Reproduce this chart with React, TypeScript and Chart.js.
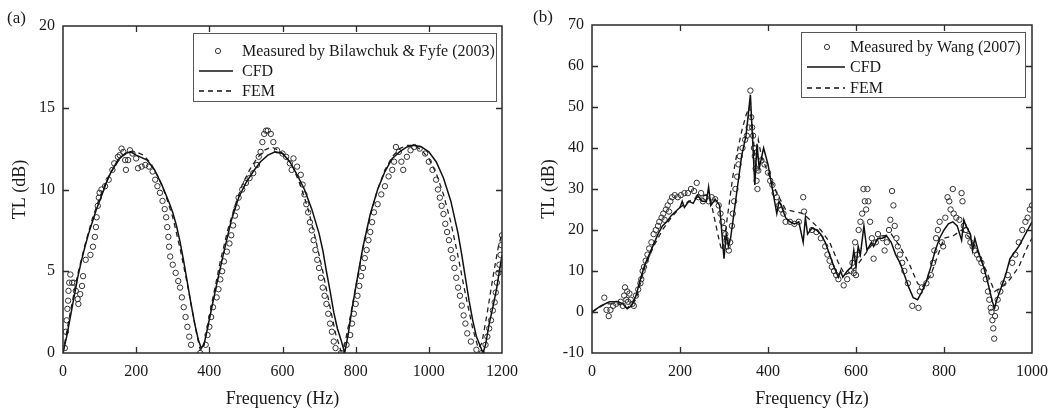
import React, { useEffect, useRef } from "react";
import { Chart, registerables } from "chart.js";
Chart.register(...registerables);

const FONT = '"Liberation Serif", "Times New Roman", serif';

// ---------- Panel (a) ----------
const aMeasFreq = [5, 8, 10, 12, 14, 15, 17, 20, 25, 30, 35, 40, 42, 47, 52, 55, 62, 75, 82, 87, 90, 92, 95, 98, 100, 105, 115, 125, 135, 140, 150, 155, 160, 165, 170, 172, 178, 183, 190, 200, 205, 215, 225, 235, 245, 252, 258, 265, 272, 278, 282, 285, 288, 290, 293, 300, 308, 315, 320, 325, 330, 335, 340, 345, 350, 375, 390, 395, 400, 405, 410, 420, 425, 430, 435, 440, 448, 455, 460, 465, 470, 475, 480, 490, 500, 510, 520, 530, 535, 540, 545, 550, 555, 560, 568, 575, 585, 600, 610, 620, 625, 630, 640, 650, 655, 660, 665, 670, 675, 680, 685, 690, 695, 700, 705, 710, 715, 720, 725, 730, 735, 740, 745, 760, 775, 785, 790, 795, 800, 805, 810, 815, 820, 825, 830, 835, 840, 845, 850, 860, 870, 880, 890, 900, 905, 910, 918, 925, 930, 940, 950, 960, 975, 990, 1000, 1010, 1020, 1025, 1030, 1035, 1040, 1045, 1050, 1055, 1060, 1065, 1070, 1075, 1080, 1085, 1090, 1095, 1100, 1105, 1115, 1130, 1145, 1155, 1160, 1165, 1170, 1175, 1180, 1183, 1186, 1190, 1193, 1196, 1198, 1200];
const aMeasTL = [0.3, 1.3, 2.0, 2.7, 3.2, 3.8, 4.3, 4.8, 4.3, 4.3, 3.8, 3.3, 3.0, 3.6, 4.1, 4.7, 5.7, 6.0, 6.5, 7.1, 7.7, 8.3, 9.0, 9.5, 9.8, 10.0, 10.2, 10.6, 11.2, 11.6, 12.0, 12.1, 12.5, 12.3, 11.8, 11.2, 11.8, 12.4, 12.2, 11.9, 11.3, 11.4, 11.5, 11.4, 11.1, 10.6, 10.2, 9.8, 9.3, 8.8, 8.3, 7.7, 7.1, 6.5, 5.9, 5.4, 4.9, 4.4, 4.0, 3.4, 2.8, 2.2, 1.6, 1.0, 0.5, 0.0, 0.5, 1.1, 1.6, 2.2, 2.8, 3.4, 3.9, 4.5, 5.0, 5.6, 6.2, 6.7, 7.2, 7.8, 8.4, 8.9, 9.5, 10.0, 10.4, 10.7, 11.0, 11.5, 12.0, 12.3, 12.9, 13.4, 13.6, 13.6, 13.4, 12.9, 12.4, 12.2, 12.0, 11.6, 11.2, 11.9, 11.4, 10.9, 10.3, 9.7, 9.1, 8.6, 8.0, 7.5, 6.9, 6.3, 5.7, 5.2, 4.6, 4.0, 3.5, 3.0, 2.4, 1.8, 1.3, 0.7, 0.3, 0.0, 0.5, 1.1, 1.8, 2.4, 3.0, 3.5, 4.1, 4.7, 5.2, 5.8, 6.3, 6.9, 7.4, 8.0, 8.6, 9.1, 9.7, 10.2, 10.8, 11.2, 11.7, 12.6, 12.3, 11.7, 11.2, 12.0, 12.4, 12.6, 12.5, 12.2, 11.7, 11.2, 10.6, 10.0, 9.5, 9.0, 8.5, 7.9, 7.4, 6.9, 6.3, 5.8, 5.2, 4.6, 4.0, 3.5, 2.9, 2.3, 1.8, 1.2, 0.7, 0.2, 0.0, 0.5, 1.0, 1.5, 2.0, 2.6, 3.1, 3.7, 4.3, 4.9, 5.4, 6.0, 6.6, 7.2];

const aCfdFreq = [0, 10, 20, 30, 40, 50, 60, 70, 80, 90, 100, 110, 120, 130, 140, 150, 160, 170, 185, 200, 230, 250, 270, 290, 300, 310, 320, 330, 340, 350, 360, 370, 378, 385, 395, 405, 420, 440, 460, 480, 500, 520, 540, 560, 580, 600, 620, 640, 660, 680, 700, 710, 720, 730, 740, 750, 760, 770, 780, 790, 800, 820, 840, 860, 880, 900, 920, 940, 960, 980, 1000, 1020, 1040, 1060, 1080, 1090, 1100, 1110, 1120, 1130, 1148, 1155, 1165, 1175, 1185, 1195, 1200];
const aCfdTL = [0, 1.0, 2.2, 3.4, 4.6, 5.6, 6.5, 7.3, 8.0, 8.7, 9.3, 9.9, 10.5, 11.0, 11.4, 11.8, 12.0, 12.2, 12.3, 12.1, 11.8, 11.2, 10.3, 9.2, 8.6, 7.8, 6.8, 5.6, 4.3, 3.0, 1.8, 0.8, 0.3, 0.5, 1.5, 2.6, 4.2, 6.2, 8.1, 9.5, 10.4, 11.1, 11.7, 12.1, 12.3, 12.2, 11.7, 10.9, 10.0, 8.8, 7.3, 6.3, 5.0, 3.8, 2.5, 1.5, 0.8, 0.0, 1.2, 2.7, 4.0, 6.5, 8.5, 10.0, 11.1, 11.9, 12.3, 12.6, 12.7, 12.6, 12.3, 11.7, 10.7, 9.3, 7.3, 6.0, 4.6, 3.2, 2.0, 1.0, 0.0, 0.5, 1.8, 2.8, 3.9, 5.3, 6.0];

const aFemFreq = [0, 10, 20, 40, 60, 80, 100, 120, 140, 160, 180, 200, 220, 240, 260, 280, 300, 320, 340, 355, 365, 375, 385, 395, 410, 430, 450, 470, 490, 510, 530, 550, 570, 590, 610, 630, 650, 670, 690, 710, 730, 745, 760, 770, 785, 800, 820, 840, 860, 880, 900, 920, 940, 960, 980, 1000, 1020, 1040, 1060, 1080, 1100, 1120, 1135, 1145, 1160, 1175, 1190, 1200];
const aFemTL = [0, 1.3, 2.5, 4.8, 6.6, 8.2, 9.5, 10.6, 11.4, 12.0, 12.3, 12.3, 12.1, 11.6, 10.8, 9.7, 8.3, 6.4, 4.2, 2.4, 1.2, 0.2, 0.4, 1.6, 3.4, 5.6, 7.5, 9.0, 10.3, 11.2, 11.9, 12.4, 12.6, 12.4, 12.0, 11.3, 10.2, 8.8, 7.0, 5.0, 2.8, 1.2, 0.1, 0.5, 2.2, 4.0, 6.4, 8.4, 10.0, 11.2, 12.0, 12.5, 12.7, 12.7, 12.4, 11.9, 11.0, 9.7, 8.0, 5.9, 3.6, 1.5, 0.3, 0.6, 2.5, 4.6, 6.5, 7.3];

// ---------- Panel (b) ----------
const bMeasFreq = [28, 33, 38, 42, 48, 55, 65, 70, 73, 75, 78, 80, 82, 85, 88, 92, 95, 100, 105, 110, 112, 115, 118, 122, 126, 130, 135, 140, 145, 150, 153, 158, 162, 165, 168, 172, 175, 178, 182, 188, 195, 202, 210, 218, 225, 232, 238, 242, 248, 252, 258, 265, 272, 280, 288, 292, 296, 300, 303, 306, 308, 311, 314, 318, 320, 323, 326, 330, 333, 336, 342, 348, 352, 356, 360, 362, 364, 366, 368, 370, 372, 374, 376, 378, 385, 392, 400, 405, 410, 415, 420, 425, 430, 435, 440, 450, 460, 470, 480, 482, 500, 510, 520, 530, 535, 540, 545, 550, 555, 560, 572, 580, 588, 592, 595, 598, 600, 603, 606, 610, 614, 617, 620, 623, 626, 628, 632, 636, 640, 645, 650, 660, 665, 670, 675, 678, 682, 685, 688, 692, 695, 700, 705, 710, 718, 728, 742, 745, 750, 760, 770, 775, 778, 782, 786, 790, 795, 798, 803, 808, 812, 815, 820, 822, 828, 835, 840, 842, 845, 850, 855, 860, 865, 870, 875, 880, 885, 890, 895, 900, 903, 906, 908, 910, 912, 914, 916, 918, 922, 928, 935, 945, 955, 962, 970, 978, 985, 990, 995, 1000];
const bMeasTL = [3.5, 0.5, -1, 0.5, 1.5, 2, 2.5, 1.5, 4, 6, 3, 5, 2.5, 4.5, 3, 2, 1.5, 4, 5.5, 7, 8, 10, 11, 12.5, 14, 15.5, 17, 19, 20, 21, 22, 23, 24, 22.5, 25, 26, 24.5, 27, 28, 28.5, 28, 28.5, 29, 29, 30, 29.5, 31.5, 28, 29, 27, 28, 27, 28, 27.5, 26, 24, 22, 20.5, 19, 17.5, 16, 15, 17, 21, 24, 27, 30, 33, 36, 38, 40, 42, 43, 45, 54, 47.5, 45, 43, 40, 38, 35, 32, 30, 34.5, 37, 36, 34, 32, 31, 29, 28, 26, 25, 24, 22, 22, 21.5, 22, 28, 24.5, 20, 19.5, 18, 16, 14, 12.5, 11, 10, 9, 8, 6.5, 8, 10, 12, 9.5, 17, 9, 14, 20, 22, 24, 30, 27, 25, 30, 27, 22, 18, 13, 17, 19, 18, 15, 17, 20, 22.5, 29.5, 26, 21, 18, 16, 14, 12, 10, 7, 1.5, 1, 5, 6, 7, 9, 12, 15, 18, 20, 22, 17, 16, 23, 28, 27, 25, 30, 24, 23, 22.5, 29, 27, 21, 20, 18.5, 17, 16, 15, 14, 13, 12, 10, 8, 5, 3, 1, 0, -2, -4, -6.5, -1, 1, 3, 5, 7, 9, 12, 14, 17, 20, 22, 23, 25, 26];

const bCfdFreq = [0, 20, 40, 60, 70, 80, 90, 100, 110, 120, 130, 140, 150, 160, 170, 180, 190, 200, 205, 210, 220, 230, 240, 250, 260, 265, 270, 280, 290, 300, 305, 310, 315, 320, 330, 340, 350, 360, 365, 370, 375, 380, 390, 400, 410, 420, 425, 430, 440, 450, 460, 470, 480, 485, 490, 500, 510, 520, 530, 540, 550, 560, 565, 570, 580, 590, 595, 600, 605, 610, 618, 625, 635, 640, 650, 660, 670, 680, 690, 700, 710, 720, 730, 740, 750, 760, 770, 780, 790, 800, 810, 820, 830, 840, 845, 850, 860, 865, 870, 880, 890, 900, 910, 915, 920, 930, 940, 950, 960, 970, 980, 990, 1000];
const bCfdTL = [0, 1.5, 2.5, 2.5, 2.0, 0.8, 1.5, 4, 8, 11.5, 14, 16.5, 19, 21, 22, 23.5, 24.5, 25.5, 27, 25.5, 27, 26.5, 28.5, 27, 27, 30.5, 26, 27.5, 26, 13, 19, 16, 18, 22, 30, 38, 43, 53, 42, 31, 41, 35, 40, 36, 30, 24, 27, 26, 23, 22, 21.5, 22, 17, 23, 19, 20.5, 20, 19, 17, 14, 11, 8.5, 10, 8.5, 10, 11, 15, 11, 16, 14, 21, 15, 17, 16, 18, 18, 18.5, 17, 14, 12, 9, 6, 3.5, 3, 5, 7.5, 11, 15, 18, 20, 21.5, 22, 21, 17.5, 22.5, 21, 19, 15, 18, 14, 11, 7, 2.5, 1, 3, 6, 9, 13, 14.5, 16, 18, 20, 22];

const bFemFreq = [0, 30, 60, 80, 100, 110, 120, 140, 160, 180, 200, 220, 240, 260, 270, 280, 290, 295, 300, 310, 320, 330, 340, 350, 358, 365, 372, 378, 385, 400, 420, 440, 460, 480, 500, 520, 540, 560, 575, 590, 600, 620, 640, 660, 680, 700, 720, 740, 750, 770, 790, 800, 820, 840, 860, 880, 900, 915, 930, 950, 970, 990, 1000];
const bFemTL = [0, 2, 2, 1, 3, 7, 11, 16, 20, 23, 25.5, 27, 28, 28.5, 27, 22, 17, 15, 17, 25, 33, 39, 44, 48, 50, 45, 35, 42, 38, 34, 29, 25, 24.5, 24, 22, 20, 17, 12, 9, 10, 11, 14, 17, 18.5, 19, 16, 12, 7, 6, 9, 15, 18, 18.5, 20, 18, 14, 9, 5, 6, 8, 11, 16, 18];

const aLegend = ["Measured by Bilawchuk & Fyfe (2003)", "CFD", "FEM"];
const bLegend = ["Measured by Wang (2007)", "CFD", "FEM"];

const zip = (xs: number[], ys: number[]) => xs.map((x, i) => ({ x, y: ys[i] }));

type PanelCfg = {
  width: number;
  xMax: number;
  xStep: number;
  yMin: number;
  yMax: number;
  yStep: number;
  padTop: number;
  padRight: number;
  label: string;
  labelX: number;
  labelY: number;
  legendNames: string[];
  legendBox: { x: number; y: number; w: number; h: number };
  legendSym: { x0: number; x1: number; cx: number; tx: number; rows: number[] };
  meas: { x: number; y: number }[];
  cfd: { x: number; y: number }[];
  fem: { x: number; y: number }[];
};

function makePlugin(cfg: PanelCfg) {
  return {
    id: "decor" + cfg.label,
    afterDatasetsDraw(chart: any) {
      const ctx = chart.ctx as CanvasRenderingContext2D;
      const a = chart.chartArea;
      const xs = chart.scales.x;
      const ys = chart.scales.y;
      ctx.save();
      // frame
      ctx.strokeStyle = "#2a2a2a";
      ctx.lineWidth = 1.5;
      ctx.strokeRect(a.left, a.top, a.right - a.left, a.bottom - a.top);
      // inward ticks
      const tl = 6;
      ctx.lineWidth = 1.3;
      ctx.beginPath();
      xs.ticks.forEach((t: any) => {
        const p = Math.round(xs.getPixelForValue(t.value)) + 0.5;
        if (p <= a.left + 1 || p >= a.right - 1) return;
        ctx.moveTo(p, a.bottom);
        ctx.lineTo(p, a.bottom - tl);
        ctx.moveTo(p, a.top);
        ctx.lineTo(p, a.top + tl);
      });
      ys.ticks.forEach((t: any) => {
        const p = Math.round(ys.getPixelForValue(t.value)) + 0.5;
        if (p <= a.top + 1 || p >= a.bottom - 1) return;
        ctx.moveTo(a.left, p);
        ctx.lineTo(a.left + tl, p);
        ctx.moveTo(a.right, p);
        ctx.lineTo(a.right - tl, p);
      });
      ctx.stroke();

      // legend
      const b = cfg.legendBox;
      ctx.fillStyle = "#ffffff";
      ctx.fillRect(b.x, b.y, b.w, b.h);
      ctx.strokeStyle = "#555";
      ctx.lineWidth = 1;
      ctx.strokeRect(b.x + 0.5, b.y + 0.5, b.w, b.h);
      const s = cfg.legendSym;
      ctx.font = `16px ${FONT}`;
      ctx.fillStyle = "#1a1a1a";
      ctx.textAlign = "left";
      ctx.textBaseline = "middle";
      ctx.beginPath();
      ctx.strokeStyle = "#333";
      ctx.lineWidth = 1;
      ctx.arc(s.cx, s.rows[0], 2.6, 0, Math.PI * 2);
      ctx.stroke();
      ctx.beginPath();
      ctx.strokeStyle = "#111";
      ctx.lineWidth = 1.5;
      ctx.moveTo(s.x0, s.rows[1]);
      ctx.lineTo(s.x1, s.rows[1]);
      ctx.stroke();
      ctx.beginPath();
      ctx.setLineDash([5, 4]);
      ctx.lineWidth = 1.3;
      ctx.moveTo(s.x0, s.rows[2]);
      ctx.lineTo(s.x1, s.rows[2]);
      ctx.stroke();
      ctx.setLineDash([]);
      cfg.legendNames.forEach((n, i) => ctx.fillText(n, s.tx, s.rows[i] + 1));

      // axis titles and panel label
      ctx.fillStyle = "#1a1a1a";
      ctx.font = `18px ${FONT}`;
      ctx.textAlign = "center";
      ctx.textBaseline = "middle";
      ctx.fillText("Frequency (Hz)", (a.left + a.right) / 2, 399);
      ctx.save();
      ctx.translate(20, (a.top + a.bottom) / 2);
      ctx.rotate(-Math.PI / 2);
      ctx.fillText("TL (dB)", 0, 0);
      ctx.restore();
      ctx.font = `17px ${FONT}`;
      ctx.textAlign = "left";
      ctx.fillText(cfg.label, cfg.labelX, cfg.labelY);
      ctx.restore();
    },
  };
}

function Panel({ cfg }: { cfg: PanelCfg }) {
  const ref = useRef<HTMLCanvasElement | null>(null);
  useEffect(() => {
    if (!ref.current) return;
    const tickFont = { family: FONT, size: 16 };
    const chart = new Chart(ref.current, {
      type: "scatter",
      data: {
        datasets: [
          {
            label: "CFD",
            data: cfg.cfd,
            showLine: true,
            borderColor: "#111",
            borderWidth: 1.5,
            pointRadius: 0,
            tension: 0,
          },
          {
            label: "FEM",
            data: cfg.fem,
            showLine: true,
            borderColor: "#222",
            borderWidth: 1.3,
            borderDash: [5, 4],
            pointRadius: 0,
            tension: 0,
          },
          {
            label: "Measured",
            data: cfg.meas,
            showLine: false,
            pointStyle: "circle",
            pointRadius: 2.7,
            pointBorderWidth: 1,
            pointBorderColor: "#333",
            pointBackgroundColor: "rgba(255,255,255,0)",
          } as any,
        ],
      },
      options: {
        responsive: false,
        animation: false,
        events: [],
        layout: { padding: { top: cfg.padTop, right: cfg.padRight, left: 0, bottom: 0 } },
        plugins: { legend: { display: false }, tooltip: { enabled: false } },
        scales: {
          x: {
            type: "linear",
            min: 0,
            max: cfg.xMax,
            grid: { display: false, drawTicks: false },
            border: { display: false },
            ticks: {
              stepSize: cfg.xStep,
              font: tickFont,
              color: "#1a1a1a",
              padding: 9,
              maxRotation: 0,
              autoSkip: false,
              callback: (v: any) => String(v),
            },
            afterFit: (s: any) => {
              s.height = 55;
            },
          },
          y: {
            type: "linear",
            min: cfg.yMin,
            max: cfg.yMax,
            grid: { display: false, drawTicks: false },
            border: { display: false },
            ticks: {
              stepSize: cfg.yStep,
              font: tickFont,
              color: "#1a1a1a",
              padding: 8,
              autoSkip: false,
              callback: (v: any) => String(v),
            },
            afterFit: (s: any) => {
              s.width = 63;
            },
          },
        },
      },
      plugins: [makePlugin(cfg)],
    } as any);
    return () => chart.destroy();
  }, [cfg]);
  return <canvas ref={ref} width={cfg.width} height={408} style={{ display: "block" }} />;
}

const panelA: PanelCfg = {
  width: 529,
  xMax: 1200,
  xStep: 200,
  yMin: 0,
  yMax: 20,
  yStep: 5,
  padTop: 26,
  padRight: 27,
  label: "(a)",
  labelX: 7,
  labelY: 19,
  legendNames: aLegend,
  legendBox: { x: 193, y: 33, w: 303, h: 68 },
  legendSym: { x0: 199, x1: 233, cx: 218, tx: 242, rows: [51, 71, 91] },
  meas: zip(aMeasFreq, aMeasTL),
  cfd: zip(aCfdFreq, aCfdTL),
  fem: zip(aFemFreq, aFemTL),
};

const panelB: PanelCfg = {
  width: 530,
  xMax: 1000,
  xStep: 200,
  yMin: -10,
  yMax: 70,
  yStep: 10,
  padTop: 25,
  padRight: 27,
  label: "(b)",
  labelX: 4,
  labelY: 18,
  legendNames: bLegend,
  legendBox: { x: 272, y: 32, w: 224, h: 65 },
  legendSym: { x0: 278, x1: 316, cx: 298, tx: 321, rows: [47, 67, 88] },
  meas: zip(bMeasFreq, bMeasTL),
  cfd: zip(bCfdFreq, bCfdTL),
  fem: zip(bFemFreq, bFemTL),
};

export default function App() {
  return (
    <div
      style={{
        position: "fixed",
        left: 0,
        top: 0,
        width: 1059,
        height: 408,
        background: "#fff",
        display: "flex",
        overflow: "hidden",
      }}
    >
      <Panel cfg={panelA} />
      <Panel cfg={panelB} />
    </div>
  );
}
